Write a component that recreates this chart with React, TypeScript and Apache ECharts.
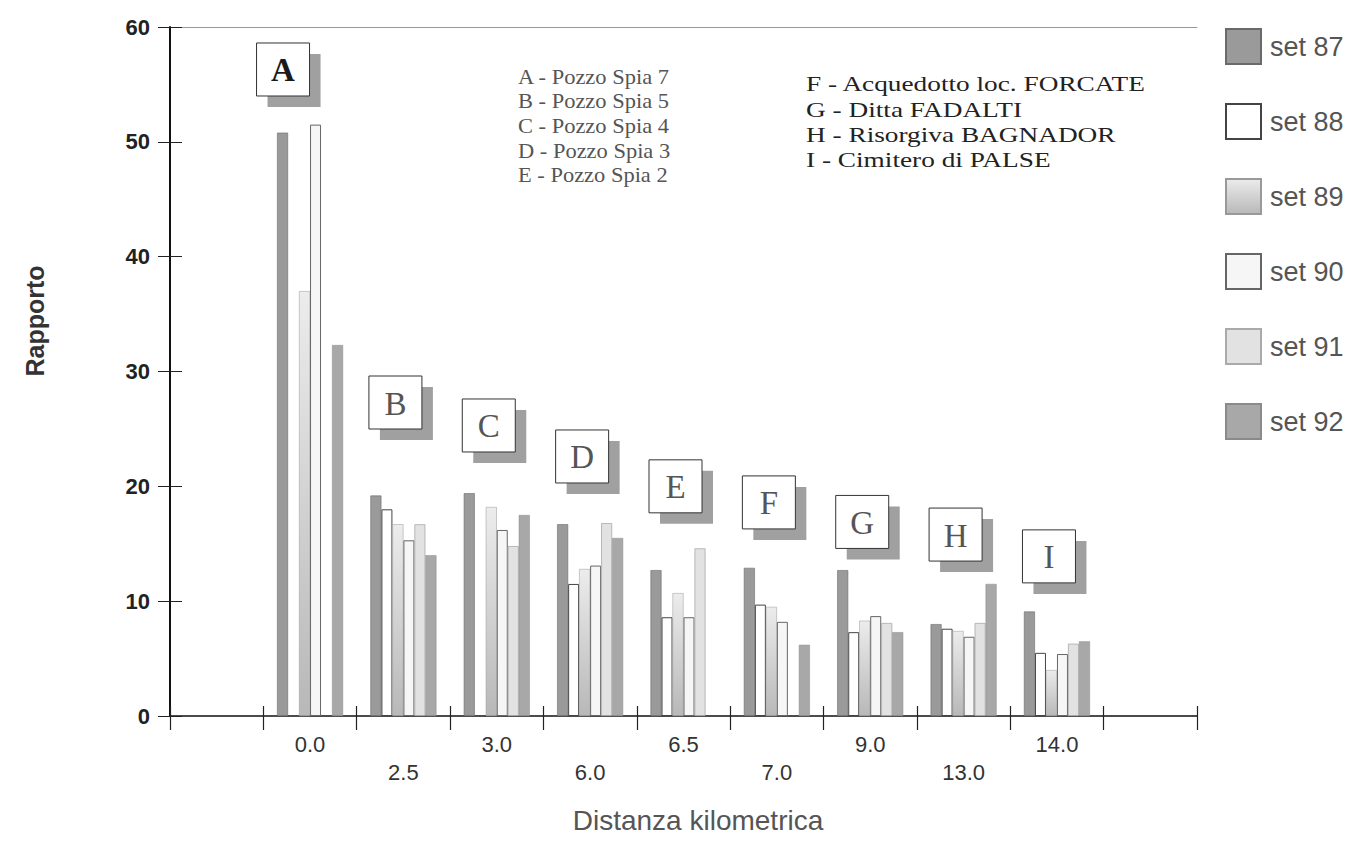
import React, { useEffect, useRef } from "react";
import * as echarts from "echarts";

const distances = ["", "0.0", "2.5", "3.0", "6.0", "6.5", "7.0", "9.0", "13.0", "14.0", ""];
const sites = ["A", "B", "C", "D", "E", "F", "G", "H", "I"];
const siteLabelY = [56.3, 27.3, 25.3, 22.6, 20.0, 18.6, 16.9, 15.8, 13.9];

const seriesNames = ["set 87", "set 88", "set 89", "set 90", "set 91", "set 92"];
const set87 = [50.8, 19.2, 19.4, 16.7, 12.7, 12.9, 12.7, 8.0, 9.1];
const set88 = [null, 18.0, null, 11.5, 8.6, 9.7, 7.3, 7.6, 5.5];
const set89 = [37.0, 16.7, 18.2, 12.8, 10.7, 9.5, 8.3, 7.4, 4.0];
const set90 = [51.5, 15.3, 16.2, 13.1, 8.6, 8.2, 8.7, 6.9, 5.4];
const set91 = [null, 16.7, 14.8, 16.8, 14.6, null, 8.1, 8.1, 6.3];
const set92 = [32.3, 14.0, 17.5, 15.5, null, 6.2, 7.3, 11.5, 6.5];

const yTicks = { min: 0, max: 60, interval: 10 };

const leftLegend = [
  "A - Pozzo Spia 7",
  "B - Pozzo Spia 5",
  "C - Pozzo Spia 4",
  "D - Pozzo Spia 3",
  "E - Pozzo Spia 2",
];
const rightLegend = [
  "F - Acquedotto loc. FORCATE",
  "G - Ditta FADALTI",
  "H - Risorgiva BAGNADOR",
  "I - Cimitero di PALSE",
];

const styles = [
  { color: "#9a9a9a", borderColor: "#6a6a6a", borderWidth: 0.6 },
  { color: "#ffffff", borderColor: "#444444", borderWidth: 1 },
  {
    color: {
      type: "linear", x: 0, y: 0, x2: 0, y2: 1,
      colorStops: [
        { offset: 0, color: "#ececec" },
        { offset: 1, color: "#b8b8b8" },
      ],
    },
    borderColor: "#999999",
    borderWidth: 0.5,
  },
  { color: "#f6f6f6", borderColor: "#666666", borderWidth: 1 },
  { color: "#e2e2e2", borderColor: "#aaaaaa", borderWidth: 0.8 },
  { color: "#a8a8a8", borderColor: "#8a8a8a", borderWidth: 0.5 },
];

const allSets = [set87, set88, set89, set90, set91, set92];

export default function App() {
  const ref = useRef<HTMLDivElement>(null);
  useEffect(() => {
    if (!ref.current) return;
    document.body.style.margin = "0";
    const chart = echarts.init(ref.current, undefined, { renderer: "svg" });
    const pad = (arr: (number | null)[]) => [null, ...arr, null].map((v) => (v == null ? "-" : v));

    const barSeries = allSets.map((arr, i) => ({
      name: seriesNames[i],
      type: "bar",
      data: pad(arr),
      barWidth: 11,
      barGap: "0%",
      itemStyle: styles[i],
      xAxisIndex: 0,
      yAxisIndex: 0,
    }));

    const siteSeries = {
      type: "custom",
      xAxisIndex: 0,
      yAxisIndex: 0,
      data: sites.map((s, i) => [i + 1, siteLabelY[i]]),
      renderItem: (params: any, api: any) => {
        const c = api.coord([api.value(0), api.value(1)]);
        const s = 53;
        const shift = params.dataIndex === 0 ? 27 : 8;
        const x0 = c[0] - shift - s / 2;
        const y0 = c[1] - s / 2;
        const letter = sites[params.dataIndex];
        const isA = params.dataIndex === 0;
        return {
          type: "group",
          children: [
            { type: "rect", shape: { x: x0 + 11, y: y0 + 11, width: s, height: s }, style: { fill: "#a0a0a0" } },
            { type: "rect", shape: { x: x0, y: y0, width: s, height: s }, style: { fill: "#ffffff", stroke: "#333333", lineWidth: 1 } },
            {
              type: "text",
              x: x0 + s / 2,
              y: y0 + s / 2 + 1,
              style: {
                text: letter,
                fill: isA ? "#1a1a1a" : "#555555",
                font: (isA ? "bold " : "") + '33px "Liberation Serif"',
                align: "center",
                verticalAlign: "middle",
              },
            },
          ],
        };
      },
      silent: true,
      z: 5,
    };

    const graphics: any[] = [];
    leftLegend.forEach((t, i) => {
      graphics.push({
        type: "text",
        x: 518,
        y: 77 + i * 24.6,
        scaleX: 1.07,
        style: { text: t, fill: "#555555", font: '21px "Liberation Serif"', verticalAlign: "middle" },
      });
    });
    rightLegend.forEach((t, i) => {
      graphics.push({
        type: "text",
        x: 806,
        y: 84 + i * 25.3,
        scaleX: 1.3,
        style: { text: t, fill: "#222222", font: '21px "Liberation Serif"', verticalAlign: "middle" },
      });
    });
    graphics.push({
      type: "text",
      x: 35,
      y: 321,
      rotation: Math.PI / 2,
      style: {
        text: "Rapporto",
        fill: "#333333",
        font: 'bold 25px "Liberation Sans"',
        align: "center",
        verticalAlign: "middle",
      },
    });
    graphics.push({
      type: "text",
      x: 698,
      y: 820,
      style: {
        text: "Distanza kilometrica",
        fill: "#555555",
        font: '28px "Liberation Sans"',
        align: "center",
        verticalAlign: "middle",
      },
    });

    chart.setOption({
      animation: false,
      backgroundColor: "#ffffff",
      grid: { left: 170, right: 160, top: 27, bottom: 125, containLabel: false },
      legend: {
        data: seriesNames,
        orient: "vertical",
        left: 1220,
        top: 23,
        itemWidth: 35,
        itemHeight: 35,
        itemGap: 38,
        icon: "rect",
        textStyle: { fontSize: 27, lineHeight: 32, color: "#555555", fontFamily: "Liberation Sans", padding: [0, 0, 0, 4] },
      },
      xAxis: [
        {
          type: "category",
          data: distances,
          position: "bottom",
          axisLine: { show: true, lineStyle: { color: "#111111", width: 1.5 } },
          axisTick: { show: true, length: 14, lineStyle: { color: "#222222", width: 1.2 } },
          axisLabel: {
            interval: 0,
            margin: 17,
            formatter: (v: string, idx: number) => (idx % 2 === 1 ? `{hi|${v}}` : `{lo|${v}}`),
            rich: {
              hi: { fontSize: 22, color: "#333333", fontFamily: "Liberation Sans" },
              lo: { fontSize: 22, color: "#333333", fontFamily: "Liberation Sans", padding: [28, 0, 0, 0] },
            },
          },
          splitLine: { show: false },
        },
        {
          type: "category",
          data: distances,
          position: "bottom",
          axisLine: { show: false },
          axisTick: { show: true, inside: true, length: 10, lineStyle: { color: "#222222", width: 1.2 } },
          axisLabel: { show: false },
          splitLine: { show: false },
        },
        {
          type: "category",
          data: distances,
          position: "top",
          axisLine: { show: true, lineStyle: { color: "#999999", width: 1 } },
          axisTick: { show: false },
          axisLabel: { show: false },
          splitLine: { show: false },
        },
      ],
      yAxis: [
        {
          type: "value",
          min: yTicks.min,
          max: yTicks.max,
          interval: yTicks.interval,
          position: "left",
          axisLine: { show: true, lineStyle: { color: "#111111", width: 2 } },
          axisTick: { show: true, length: 12, lineStyle: { color: "#222222", width: 1 } },
          axisLabel: { margin: 20, fontSize: 22, fontWeight: "bold", color: "#222222", fontFamily: "Liberation Sans" },
          splitLine: { show: false },
        },
        {
          type: "value",
          min: yTicks.min,
          max: yTicks.max,
          interval: yTicks.interval,
          position: "left",
          axisLine: { show: false },
          axisTick: { show: true, inside: true, length: 12, lineStyle: { color: "#222222", width: 1 } },
          axisLabel: { show: false },
          splitLine: { show: false },
        },
      ],
      series: [...barSeries, siteSeries],
      graphic: graphics,
    });
    return () => chart.dispose();
  }, []);
  return <div ref={ref} style={{ width: 1357, height: 841 }} />;
}
